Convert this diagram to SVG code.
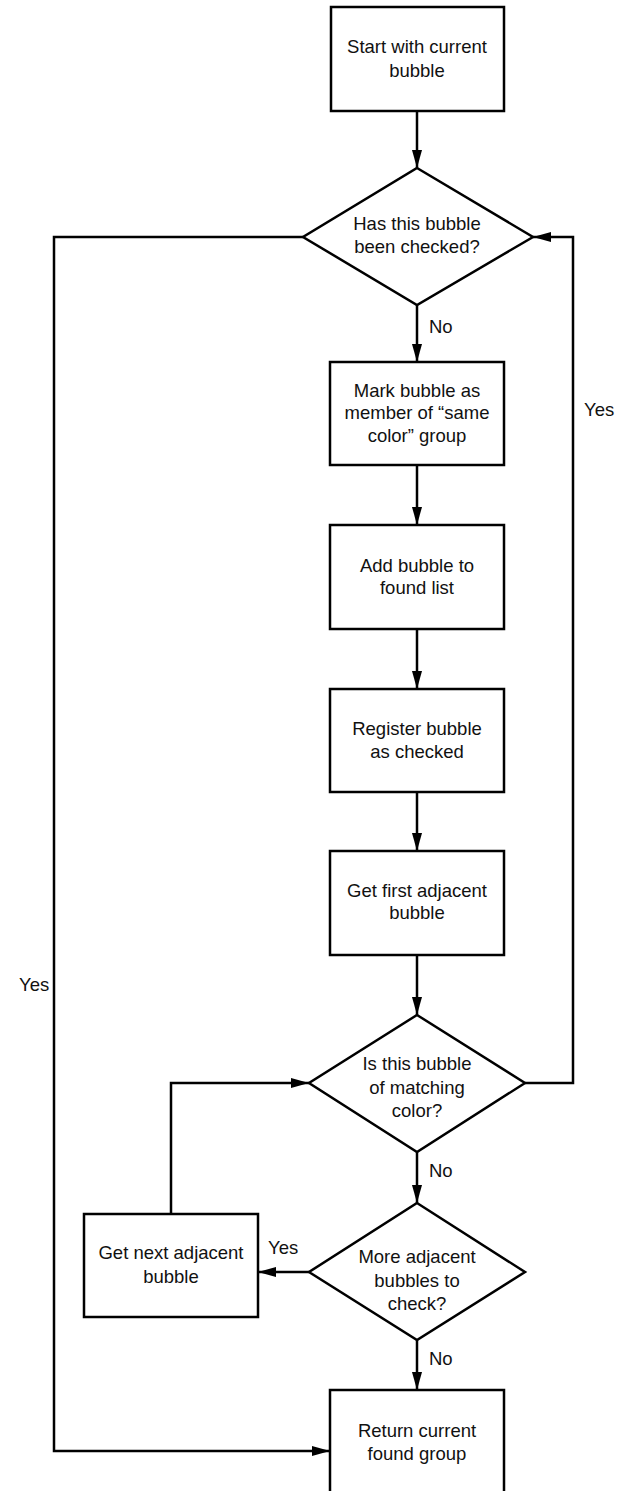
<svg xmlns="http://www.w3.org/2000/svg" width="617" height="1491" viewBox="0 0 617 1491">
<style>
.n{fill:#fff;stroke:#000;stroke-width:2.5}
.c{fill:none;stroke:#000;stroke-width:2.5}
text{font-family:"Liberation Sans",Arial,sans-serif;font-size:18.5px;fill:#111}
.m{text-anchor:middle}
</style>
<defs>
<marker id="ah" viewBox="0 0 18 10" refX="18" refY="5" markerWidth="18" markerHeight="10" markerUnits="userSpaceOnUse" orient="auto">
<path d="M0,0 L18,5 L0,10 Z" fill="#000"/>
</marker>
</defs>
<g id="connectors">
<path class="c" d="M417,111 V168" marker-end="url(#ah)"/>
<path class="c" d="M417,305 V362" marker-end="url(#ah)"/>
<path class="c" d="M417,465 V525" marker-end="url(#ah)"/>
<path class="c" d="M417,629 V689" marker-end="url(#ah)"/>
<path class="c" d="M417,792 V851" marker-end="url(#ah)"/>
<path class="c" d="M417,955 V1015" marker-end="url(#ah)"/>
<path class="c" d="M417,1152 V1203" marker-end="url(#ah)"/>
<path class="c" d="M417,1340 V1390" marker-end="url(#ah)"/>
<path class="c" d="M525,1083 H573 V237 H533" marker-end="url(#ah)"/>
<path class="c" d="M303,237 H54 V1451 H330" marker-end="url(#ah)"/>
<path class="c" d="M309,1272 H258" marker-end="url(#ah)"/>
<path class="c" d="M171,1214 V1083 H309" marker-end="url(#ah)"/>
<text x="429" y="333">No</text>
<text x="429" y="1177">No</text>
<text x="429" y="1365">No</text>
<text x="584" y="416">Yes</text>
<text x="19" y="991">Yes</text>
<text x="268" y="1254">Yes</text>
</g>
<g id="start">
<rect class="n" x="331" y="7" width="173" height="104"/>
<text class="m" x="417" y="53">Start with current</text>
<text class="m" x="417" y="77">bubble</text>
</g>
<g id="checked">
<polygon class="n" points="417,168 533,237 417,305 303,237"/>
<text class="m" x="417" y="230">Has this bubble</text>
<text class="m" x="417" y="253">been checked?</text>
</g>
<g id="mark">
<rect class="n" x="330" y="362" width="174" height="103"/>
<text class="m" x="417" y="397">Mark bubble as</text>
<text class="m" x="417" y="419">member of “same</text>
<text class="m" x="417" y="442">color” group</text>
</g>
<g id="add">
<rect class="n" x="330" y="525" width="174" height="104"/>
<text class="m" x="417" y="572">Add bubble to</text>
<text class="m" x="417" y="594">found list</text>
</g>
<g id="register">
<rect class="n" x="330" y="689" width="174" height="103"/>
<text class="m" x="417" y="735">Register bubble</text>
<text class="m" x="417" y="758">as checked</text>
</g>
<g id="getfirst">
<rect class="n" x="330" y="851" width="174" height="104"/>
<text class="m" x="417" y="897">Get first adjacent</text>
<text class="m" x="417" y="919">bubble</text>
</g>
<g id="matching">
<polygon class="n" points="417,1015 525,1083 417,1152 309,1083"/>
<text class="m" x="417" y="1070">Is this bubble</text>
<text class="m" x="417" y="1094">of matching</text>
<text class="m" x="417" y="1117">color?</text>
</g>
<g id="more">
<polygon class="n" points="417,1203 525,1272 417,1340 309,1272"/>
<text class="m" x="417" y="1263">More adjacent</text>
<text class="m" x="417" y="1287">bubbles to</text>
<text class="m" x="417" y="1310">check?</text>
</g>
<g id="getnext">
<rect class="n" x="84" y="1214" width="174" height="103"/>
<text class="m" x="171" y="1259">Get next adjacent</text>
<text class="m" x="171" y="1283">bubble</text>
</g>
<g id="return">
<rect class="n" x="330" y="1390" width="174" height="110"/>
<text class="m" x="417" y="1437">Return current</text>
<text class="m" x="417" y="1460">found group</text>
</g>
</svg>
